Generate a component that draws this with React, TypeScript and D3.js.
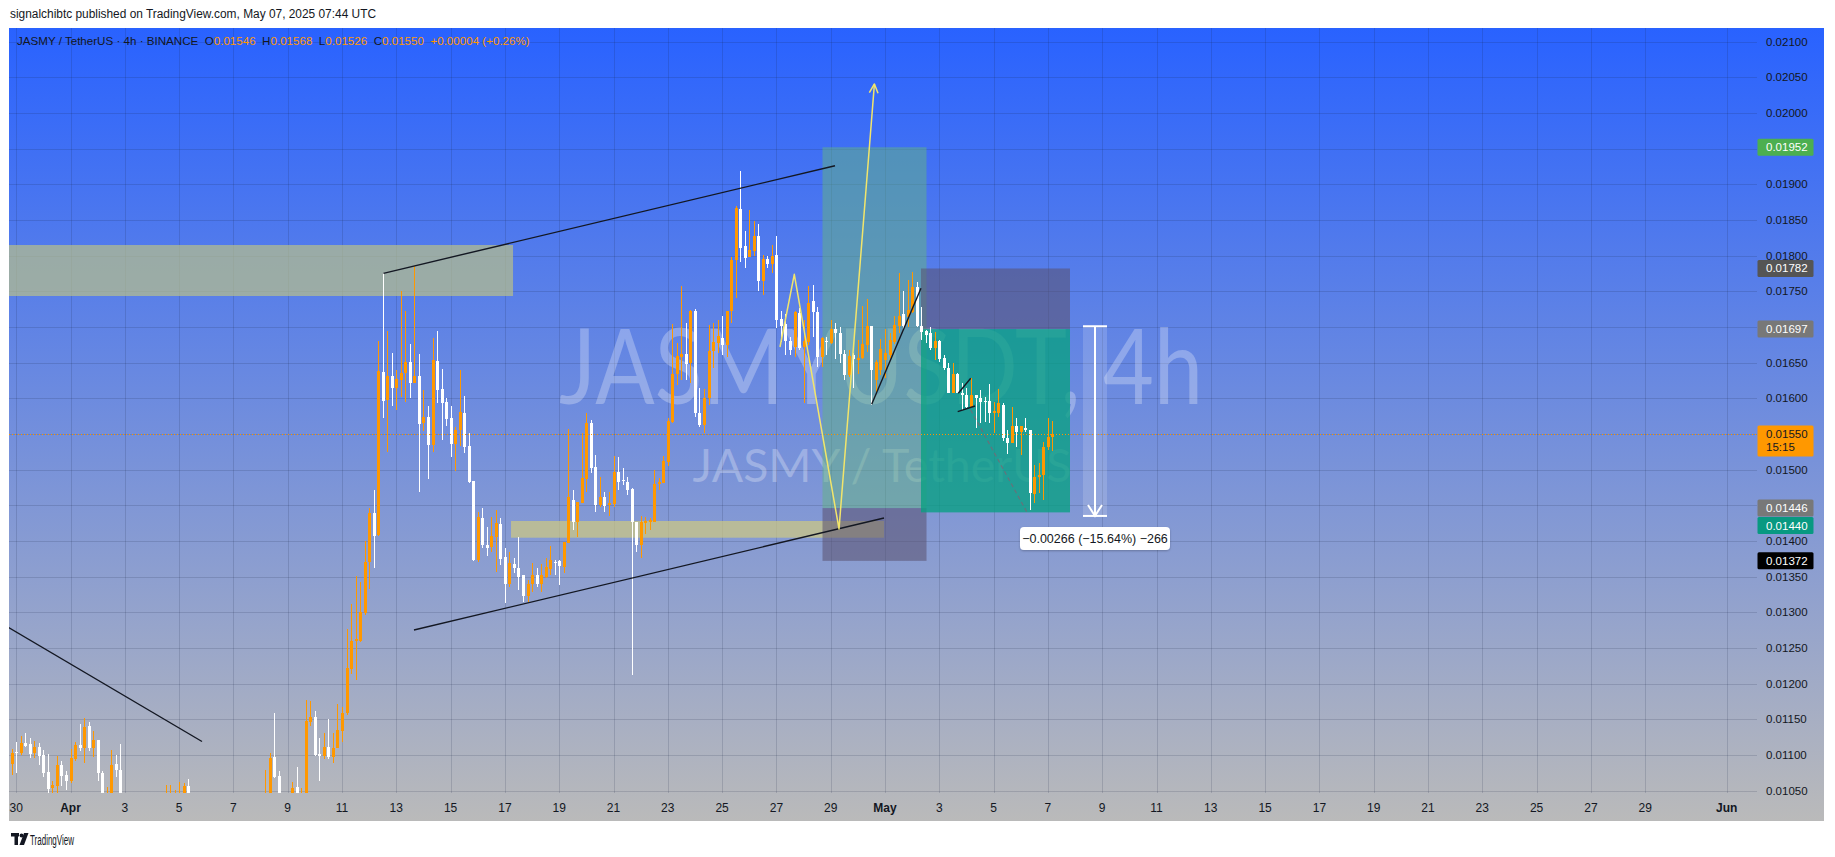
import React from 'react';
import * as d3 from 'd3';

// ---------------- data ----------------
// JASMY/USDT 4h candles, first bar opens 2025-03-29 20:00 UTC; null = bar entirely below the visible range
const firstBarTime = Date.UTC(2025, 2, 29, 20, 0);
const barHours = 4;

const opens: (number | null)[] = [
  0.01087, 0.01104, 0.01102, 0.01117, 0.01115, 0.01102, 0.01111, 0.01100, 0.01076, 0.01054,
  0.01057, 0.01086, 0.01072, 0.01063, 0.01094, 0.01114, 0.01109, 0.01140, 0.01109, 0.01121,
  0.01075, 0.01030, 0.01040, 0.01087, 0.01079, null, null, null, null, null,
  null, null, null, null, 0.01015, 0.01020, 0.01025, 0.01020, 0.01030, 0.01057,
  null, null, null, null, null, null, null, null, null, null,
  null, null, null, null, null, null, 0.01010, 0.01030, 0.01097, 0.01071,
  null, null, 0.01020, 0.01055, 0.01025, 0.01020, 0.01146, 0.01153, 0.01101, 0.01098,
  0.01111, 0.01097, 0.01109, 0.01134, 0.01158, 0.01220, 0.01260, 0.01260, 0.01299, 0.01371,
  0.01439, 0.01408, 0.01637, 0.01598, 0.01631, 0.01615, 0.01626, 0.01636, 0.01651, 0.01621,
  0.01631, 0.01565, 0.01574, 0.01534, 0.01652, 0.01613, 0.01595, 0.01572, 0.01536, 0.01555,
  0.01580, 0.01533, 0.01484, 0.01373, 0.01432, 0.01394, 0.01391, 0.01406, 0.01424, 0.01377,
  0.01340, 0.01367, 0.01362, 0.01352, 0.01323, 0.01339, 0.01352, 0.01340, 0.01350, 0.01360,
  0.01371, 0.01372, 0.01364, 0.01397, 0.01457, 0.01427, 0.01453, 0.01487, 0.01566, 0.01504,
  0.01450, 0.01462, 0.01450, 0.01452, 0.01496, 0.01485, 0.01483, 0.01473, 0.01426, 0.01394,
  0.01425, 0.01427, 0.01427, 0.01480, 0.01481, 0.01511, 0.01567, 0.01634, 0.01658, 0.01662,
  0.01649, 0.01722, 0.01580, 0.01563, 0.01600, 0.01666, 0.01678, 0.01685, 0.01675, 0.01722,
  0.01794, 0.01865, 0.01813, 0.01798, 0.01806, 0.01827, 0.01764, 0.01795, 0.01788, 0.01801,
  0.01711, 0.01704, 0.01680, 0.01672, 0.01720, 0.01672, 0.01679, 0.01736, 0.01721, 0.01658,
  0.01680, 0.01678, 0.01697, 0.01692, 0.01662, 0.01633, 0.01661, 0.01654, 0.01657, 0.01675,
  0.01701, 0.01626, 0.01640, 0.01654, 0.01661, 0.01679, 0.01702, 0.01718, 0.01714, 0.01721,
  0.01756, 0.01702, 0.01694, 0.01691, 0.01670, 0.01680, 0.01656, 0.01642, 0.01608, 0.01634,
  0.01608, 0.01604, 0.01588, 0.01604, 0.01601, 0.01596, 0.01596, 0.01580, 0.01579, 0.01591,
  0.01544, 0.01537, 0.01561, 0.01553, 0.01559, 0.01555, 0.01466, 0.01490, 0.01492, 0.01532,
  0.01546,
];

const highs: (number | null)[] = [
  0.01108, 0.01118, 0.01127, 0.01130, 0.01123, 0.01120, 0.01117, 0.01107, 0.01101, 0.01063,
  0.01099, 0.01092, 0.01078, 0.01108, 0.01118, 0.01143, 0.01152, 0.01146, 0.01133, 0.01121,
  0.01078, 0.01055, 0.01107, 0.01100, 0.01115, null, null, null, null, null,
  null, null, null, null, 0.01058, 0.01058, 0.01051, 0.01062, 0.01060, 0.01066,
  null, null, null, null, null, null, null, null, null, null,
  null, null, null, null, null, null, 0.01079, 0.01102, 0.01158, 0.01078,
  null, null, 0.01062, 0.01083, 0.01054, 0.01177, 0.01175, 0.01162, 0.01124, 0.01130,
  0.01150, 0.01130, 0.01171, 0.01167, 0.01276, 0.01311, 0.01351, 0.01343, 0.01400, 0.01446,
  0.01472, 0.01680, 0.01775, 0.01694, 0.01663, 0.01640, 0.01750, 0.01722, 0.01676, 0.01785,
  0.01662, 0.01612, 0.01589, 0.01685, 0.01694, 0.01641, 0.01601, 0.01589, 0.01560, 0.01640,
  0.01603, 0.01552, 0.01484, 0.01441, 0.01446, 0.01420, 0.01434, 0.01444, 0.01432, 0.01390,
  0.01385, 0.01376, 0.01405, 0.01352, 0.01345, 0.01369, 0.01362, 0.01367, 0.01376, 0.01393,
  0.01373, 0.01373, 0.01399, 0.01557, 0.01471, 0.01455, 0.01551, 0.01580, 0.01569, 0.01520,
  0.01489, 0.01468, 0.01469, 0.01519, 0.01517, 0.01502, 0.01489, 0.01474, 0.01427, 0.01435,
  0.01434, 0.01432, 0.01499, 0.01488, 0.01519, 0.01572, 0.01704, 0.01677, 0.01757, 0.01705,
  0.01724, 0.01725, 0.01614, 0.01613, 0.01703, 0.01706, 0.01710, 0.01715, 0.01722, 0.01798,
  0.01870, 0.01918, 0.01834, 0.01864, 0.01848, 0.01844, 0.01801, 0.01800, 0.01815, 0.01827,
  0.01723, 0.01718, 0.01686, 0.01723, 0.01726, 0.01710, 0.01758, 0.01759, 0.01728, 0.01686,
  0.01686, 0.01710, 0.01705, 0.01700, 0.01667, 0.01667, 0.01663, 0.01682, 0.01729, 0.01739,
  0.01701, 0.01653, 0.01683, 0.01697, 0.01691, 0.01715, 0.01775, 0.01750, 0.01766, 0.01777,
  0.01763, 0.01728, 0.01696, 0.01700, 0.01693, 0.01682, 0.01660, 0.01649, 0.01649, 0.01635,
  0.01621, 0.01614, 0.01628, 0.01605, 0.01612, 0.01602, 0.01620, 0.01595, 0.01613, 0.01594,
  0.01555, 0.01588, 0.01573, 0.01561, 0.01573, 0.01556, 0.01506, 0.01509, 0.01539, 0.01573,
  0.01568,
];

const lows: (number | null)[] = [
  0.01072, 0.01075, 0.01100, 0.01111, 0.01095, 0.01095, 0.01086, 0.01069, 0.01047, 0.01042,
  0.01044, 0.01057, 0.01051, 0.01060, 0.01092, 0.01106, 0.01089, 0.01105, 0.01097, 0.01064,
  0.01020, 0.01020, 0.01030, 0.01069, 0.01010, null, null, null, null, null,
  null, null, null, null, 0.01000, 0.01005, 0.01010, 0.01010, 0.01020, 0.01020,
  null, null, null, null, null, null, null, null, null, null,
  null, null, null, null, null, null, 0.01000, 0.01020, 0.01068, 0.01020,
  null, null, 0.01010, 0.01010, 0.01015, 0.01015, 0.01140, 0.01098, 0.01064, 0.01094,
  0.01094, 0.01089, 0.01109, 0.01118, 0.01156, 0.01214, 0.01205, 0.01258, 0.01296, 0.01333,
  0.01362, 0.01407, 0.01573, 0.01524, 0.01589, 0.01583, 0.01602, 0.01595, 0.01601, 0.01621,
  0.01468, 0.01554, 0.01487, 0.01525, 0.01594, 0.01542, 0.01561, 0.01518, 0.01498, 0.01533,
  0.01523, 0.01481, 0.01372, 0.01371, 0.01390, 0.01379, 0.01385, 0.01357, 0.01366, 0.01313,
  0.01335, 0.01355, 0.01331, 0.01314, 0.01314, 0.01329, 0.01336, 0.01329, 0.01348, 0.01352,
  0.01352, 0.01338, 0.01355, 0.01397, 0.01415, 0.01406, 0.01453, 0.01468, 0.01495, 0.01440,
  0.01448, 0.01441, 0.01435, 0.01447, 0.01472, 0.01478, 0.01465, 0.01212, 0.01385, 0.01376,
  0.01410, 0.01415, 0.01427, 0.01471, 0.01481, 0.01505, 0.01566, 0.01619, 0.01626, 0.01626,
  0.01621, 0.01574, 0.01560, 0.01551, 0.01591, 0.01642, 0.01663, 0.01661, 0.01658, 0.01706,
  0.01740, 0.01791, 0.01782, 0.01798, 0.01799, 0.01751, 0.01745, 0.01782, 0.01775, 0.01698,
  0.01679, 0.01660, 0.01660, 0.01658, 0.01668, 0.01594, 0.01675, 0.01686, 0.01644, 0.01644,
  0.01661, 0.01676, 0.01655, 0.01649, 0.01626, 0.01630, 0.01614, 0.01634, 0.01655, 0.01665,
  0.01591, 0.01608, 0.01633, 0.01629, 0.01656, 0.01676, 0.01691, 0.01696, 0.01700, 0.01719,
  0.01700, 0.01682, 0.01677, 0.01668, 0.01653, 0.01651, 0.01639, 0.01607, 0.01607, 0.01607,
  0.01584, 0.01586, 0.01586, 0.01559, 0.01566, 0.01567, 0.01566, 0.01551, 0.01574, 0.01540,
  0.01522, 0.01537, 0.01532, 0.01520, 0.01553, 0.01443, 0.01453, 0.01467, 0.01457, 0.01528,
  0.01526,
];

const closes: (number | null)[] = [
  0.01103, 0.01102, 0.01116, 0.01112, 0.01101, 0.01111, 0.01098, 0.01075, 0.01052, 0.01058,
  0.01086, 0.01071, 0.01064, 0.01096, 0.01114, 0.01109, 0.01139, 0.01109, 0.01121, 0.01075,
  0.01030, 0.01040, 0.01086, 0.01079, 0.01020, null, null, null, null, null,
  null, null, null, null, 0.01025, 0.01030, 0.01035, 0.01035, 0.01056, 0.01030,
  null, null, null, null, null, null, null, null, null, null,
  null, null, null, null, null, null, 0.01030, 0.01096, 0.01069, 0.01035,
  null, null, 0.01054, 0.01030, 0.01040, 0.01147, 0.01153, 0.01100, 0.01098, 0.01111,
  0.01097, 0.01110, 0.01135, 0.01158, 0.01222, 0.01260, 0.01262, 0.01300, 0.01371, 0.01439,
  0.01407, 0.01638, 0.01596, 0.01631, 0.01615, 0.01627, 0.01635, 0.01651, 0.01622, 0.01631,
  0.01564, 0.01574, 0.01534, 0.01654, 0.01612, 0.01594, 0.01571, 0.01536, 0.01555, 0.01581,
  0.01532, 0.01482, 0.01373, 0.01433, 0.01394, 0.01390, 0.01407, 0.01425, 0.01375, 0.01340,
  0.01369, 0.01362, 0.01350, 0.01323, 0.01340, 0.01352, 0.01339, 0.01352, 0.01363, 0.01373,
  0.01369, 0.01365, 0.01399, 0.01461, 0.01426, 0.01455, 0.01488, 0.01566, 0.01502, 0.01450,
  0.01462, 0.01449, 0.01453, 0.01497, 0.01483, 0.01484, 0.01471, 0.01426, 0.01394, 0.01426,
  0.01428, 0.01430, 0.01480, 0.01482, 0.01512, 0.01568, 0.01634, 0.01659, 0.01662, 0.01648,
  0.01723, 0.01580, 0.01562, 0.01601, 0.01666, 0.01679, 0.01687, 0.01675, 0.01722, 0.01794,
  0.01867, 0.01811, 0.01797, 0.01808, 0.01827, 0.01764, 0.01795, 0.01788, 0.01799, 0.01710,
  0.01702, 0.01680, 0.01668, 0.01721, 0.01671, 0.01680, 0.01734, 0.01721, 0.01658, 0.01685,
  0.01679, 0.01697, 0.01692, 0.01662, 0.01633, 0.01659, 0.01655, 0.01657, 0.01676, 0.01701,
  0.01640, 0.01651, 0.01669, 0.01663, 0.01682, 0.01703, 0.01715, 0.01701, 0.01724, 0.01756,
  0.01701, 0.01693, 0.01689, 0.01670, 0.01680, 0.01655, 0.01642, 0.01608, 0.01634, 0.01608,
  0.01604, 0.01588, 0.01604, 0.01601, 0.01595, 0.01595, 0.01579, 0.01582, 0.01593, 0.01544,
  0.01537, 0.01561, 0.01553, 0.01561, 0.01555, 0.01467, 0.01490, 0.01492, 0.01532, 0.01545,
  0.01550,
];

const priceTicks = [
  0.0105, 0.011, 0.0115, 0.012, 0.0125, 0.013, 0.0135, 0.014, 0.0145, 0.015, 0.0155,
  0.016, 0.0165, 0.017, 0.0175, 0.018, 0.0185, 0.019, 0.0195, 0.02, 0.0205, 0.021,
];

const timeTickDates = [
  '2025-03-30', '2025-04-01', '2025-04-03', '2025-04-05', '2025-04-07', '2025-04-09', '2025-04-11',
  '2025-04-13', '2025-04-15', '2025-04-17', '2025-04-19', '2025-04-21', '2025-04-23', '2025-04-25',
  '2025-04-27', '2025-04-29', '2025-05-01', '2025-05-03', '2025-05-05', '2025-05-07', '2025-05-09',
  '2025-05-11', '2025-05-13', '2025-05-15', '2025-05-17', '2025-05-19', '2025-05-21', '2025-05-23',
  '2025-05-25', '2025-05-27', '2025-05-29', '2025-06-01',
];
const timeTickLabels = [
  '30', 'Apr', '3', '5', '7', '9', '11', '13', '15', '17', '19', '21', '23', '25', '27', '29',
  'May', '3', '5', '7', '9', '11', '13', '15', '17', '19', '21', '23', '25', '27', '29', 'Jun',
];

// price-axis marker labels
const markerPrices = [0.01952, 0.01782, 0.01697, 0.0155, 0.01446, 0.0144, 0.01372];
const markerSubtext = ['', '', '', '15:15', '', '', ''];

// header texts
const publishedLine = 'signalchibtc published on TradingView.com, May 07, 2025 07:44 UTC';
const symbolName = 'JASMY / TetherUS · 4h · BINANCE';
const ohlcLetters = ['O', 'H', 'L', 'C'];
const ohlcValues = ['0.01546', '0.01568', '0.01526', '0.01550'];
const changeText = '+0.00004 (+0.26%)';

// drawings: [time, price]
const upperTrend: [number, number][] = [[Date.UTC(2025, 3, 12, 12, 36), 0.017752], [Date.UTC(2025, 3, 29, 3, 48), 0.019261]];
const lowerTrend: [number, number][] = [[Date.UTC(2025, 3, 13, 15, 36), 0.01275], [Date.UTC(2025, 3, 30, 23, 7), 0.014321]];
const oldTrend: [number, number][] = [[Date.UTC(2025, 2, 28, 12, 0), 0.01306], [Date.UTC(2025, 3, 5, 20, 14), 0.011187]];
const mayTrend: [number, number][] = [[Date.UTC(2025, 3, 30, 12, 14), 0.015915], [Date.UTC(2025, 4, 2, 7, 49), 0.017542]];
const flagUpper: [number, number][] = [[Date.UTC(2025, 4, 3, 16, 48), 0.01607], [Date.UTC(2025, 4, 4, 3, 46), 0.01628]];
const flagLower: [number, number][] = [[Date.UTC(2025, 4, 3, 16, 16), 0.015812], [Date.UTC(2025, 4, 4, 7, 34), 0.015892]];
const flagProjection: [number, number][] = [[Date.UTC(2025, 4, 4, 3, 46), 0.015836], [Date.UTC(2025, 4, 6, 5, 15), 0.014409]];
const pathProjection: [number, number][] = [
  [Date.UTC(2025, 3, 27, 3, 11), 0.016719],
  [Date.UTC(2025, 3, 27, 15, 49), 0.017738],
  [Date.UTC(2025, 3, 29, 7, 21), 0.014167],
  [Date.UTC(2025, 3, 30, 14, 38), 0.020407],
];
const supplyZone = { t0: Date.UTC(2025, 2, 20), t1: Date.UTC(2025, 3, 17, 7, 12), p0: 0.018149, p1: 0.017434 };
const demandZone = { t0: Date.UTC(2025, 3, 17, 5, 24), t1: Date.UTC(2025, 3, 30, 23, 7), p0: 0.014279, p1: 0.014045 };
const longPos = { t0: Date.UTC(2025, 3, 28, 16, 45), t1: Date.UTC(2025, 4, 2, 12, 42), entry: 0.01446, target: 0.01952, stop: 0.01372 };
const shortPos = { t0: Date.UTC(2025, 4, 2, 7, 49), t1: Date.UTC(2025, 4, 7, 19, 32), entry: 0.01697, target: 0.0144, stop: 0.01782 };
const measure = { t: Date.UTC(2025, 4, 8, 17, 38), from: 0.01701, to: 0.01435 };

// ---------------- layout ----------------
const W = 1835;
const H = 857;
const panel = { left: 9, top: 28, right: 1824, bottom: 821 };
const plot = { left: 9, top: 28, right: 1757, bottom: 793 };
const FONT = '"Liberation Sans", Arial, sans-serif';
const TEXT = '#131722';
const ORANGE = '#ff9800';
const GAP = '\u00a0\u00a0';

const markerColors = ['#4caf50', '#555555', '#787878', '#ff9800', '#787878', '#089981', '#000000'];
const markerText = ['#ffffff', '#ffffff', '#ffffff', '#131722', '#ffffff', '#ffffff', '#ffffff'];

export default function App() {
  const x = d3
    .scaleUtc()
    .domain([new Date(Date.UTC(2025, 4, 1)), new Date(Date.UTC(2025, 5, 1))])
    .range([885, 1726.65]);
  const y = d3.scaleLinear().domain([0.0105, 0.021]).range([790.5, 41.7]);
  const fmt = d3.format('.5f');
  const X = (t: number) => x(new Date(t));

  const candles = opens
    .map((o, i) =>
      o == null
        ? null
        : { i, o, h: highs[i] as number, l: lows[i] as number, c: closes[i] as number, t: firstBarTime + i * barHours * 3600000 }
    )
    .filter(Boolean) as { i: number; o: number; h: number; l: number; c: number; t: number }[];

  // marker label layout (push down on collision)
  const markers = markerPrices.map((p, k) => ({
    p,
    k,
    h: markerSubtext[k] ? 31 : 17,
    top: y(p) - 8.5,
  }));
  const sorted = [...markers].sort((a, b) => a.top - b.top);
  let prevBottom = -Infinity;
  sorted.forEach((m) => {
    if (m.top < prevBottom + 0.5) m.top = prevBottom + 0.5;
    prevBottom = m.top + m.h;
  });
  const tickVisible = (p: number) => {
    const cy = y(p);
    return !markers.some((m) => cy + 4 > m.top && cy - 4 < m.top + m.h);
  };

  const line = d3
    .line<[number, number]>()
    .x((d) => X(d[0]))
    .y((d) => y(d[1]));

  // yellow arrow head
  const pp = pathProjection;
  const tipX = X(pp[3][0]);
  const tipY = y(pp[3][1]);
  const bx = X(pp[2][0]);
  const by = y(pp[2][1]);
  const ang = Math.atan2(tipY - by, tipX - bx);
  const headLen = 10;
  const head = [ang + Math.PI - 0.45, ang + Math.PI + 0.45].map((a) => [tipX + headLen * Math.cos(a), tipY + headLen * Math.sin(a)]);

  // measure
  const mx = X(measure.t);
  const my0 = y(measure.from);
  const my1 = y(measure.to);
  const diff = measure.to - measure.from;
  const pct = (diff / measure.from) * 100;
  const ticks = Math.round(diff / 0.00001);
  const minus = (s: string) => s.replace('-', '\u2212');
  const measureText = `${minus(d3.format('.5f')(diff))} (${minus(d3.format('.2f')(pct))}%) ${minus(String(ticks))}`;

  const curY = y(closes[closes.length - 1] as number);

  const rectP = (t0: number, t1: number, p0: number, p1: number) => {
    const x0 = X(t0);
    const x1 = X(t1);
    const ya = y(Math.max(p0, p1));
    const yb = y(Math.min(p0, p1));
    return { x: x0, y: ya, width: x1 - x0, height: yb - ya };
  };

  return (
    <svg
      width={W}
      height={H}
      viewBox={`0 0 ${W} ${H}`}
      style={{ position: 'absolute', left: 0, top: 0, display: 'block', background: '#ffffff' }}
      fontFamily={FONT}
    >
      <defs>
        <linearGradient id="bg" gradientUnits="userSpaceOnUse" x1="0" y1={panel.top} x2="0" y2={panel.bottom}>
          <stop offset="0" stopColor="#2962ff" />
          <stop offset="1" stopColor="#bababa" />
        </linearGradient>
        <clipPath id="plotClip">
          <rect x={plot.left} y={plot.top} width={plot.right - plot.left} height={plot.bottom - plot.top} />
        </clipPath>
        <filter id="shadow" x="-10%" y="-30%" width="120%" height="160%">
          <feDropShadow dx="0" dy="1" stdDeviation="1.2" floodColor="#000" floodOpacity="0.25" />
        </filter>
      </defs>

      {/* header */}
      <text x={10} y={18} fontSize={12.5} fill={TEXT} textLength={366} lengthAdjust="spacingAndGlyphs">
        {publishedLine}
      </text>

      {/* panel background */}
      <rect x={panel.left} y={panel.top} width={panel.right - panel.left} height={panel.bottom - panel.top} fill="url(#bg)" />

      {/* grid */}
      <g stroke="rgba(25,35,70,0.16)" strokeWidth={1} shapeRendering="crispEdges">
        {priceTicks.map((p) => (
          <line key={'h' + p} x1={plot.left} x2={plot.right} y1={Math.round(y(p)) + 0.5} y2={Math.round(y(p)) + 0.5} />
        ))}
        {timeTickDates.map((d) => {
          const xx = Math.round(x(new Date(d + 'T00:00:00Z'))) + 0.5;
          return <line key={'v' + d} x1={xx} x2={xx} y1={plot.top} y2={plot.bottom} />;
        })}
      </g>

      {/* watermark */}
      <g fill="#ffffff" fillOpacity={0.28} fontFamily='Lato, "Open Sans", sans-serif' textAnchor="middle">
        <text x={881} y={404} fontSize={104} textLength={644} lengthAdjust="spacingAndGlyphs">
          JASMYUSDT, 4h
        </text>
        <text x={882} y={482} fontSize={46} textLength={379} lengthAdjust="spacingAndGlyphs">
          JASMY / TetherUS
        </text>
      </g>

      <g clipPath="url(#plotClip)">
        {/* zones */}
        <rect {...rectP(supplyZone.t0, supplyZone.t1, supplyZone.p0, supplyZone.p1)} fill="rgba(182,190,140,0.72)" />
        <rect {...rectP(demandZone.t0, demandZone.t1, demandZone.p0, demandZone.p1)} fill="rgba(205,200,130,0.72)" />

        {/* long position */}
        <rect {...rectP(longPos.t0, longPos.t1, longPos.entry, longPos.target)} fill="rgba(100,180,130,0.5)" />
        <rect {...rectP(longPos.t0, longPos.t1, longPos.stop, longPos.entry)} fill="rgba(90,80,110,0.55)" />

        {/* short position */}
        <rect {...rectP(shortPos.t0, shortPos.t1, shortPos.entry, shortPos.stop)} fill="rgba(90,80,110,0.55)" />
        <rect {...rectP(shortPos.t0, shortPos.t1, shortPos.target, shortPos.entry)} fill="rgba(8,160,130,0.78)" />

        {/* measure band */}
        <rect x={mx - 12} y={my0} width={24} height={my1 - my0} fill="rgba(255,255,255,0.16)" />

        {/* candles */}
        <g shapeRendering="crispEdges">
          {candles.map((d) => {
            const cx = Math.round(X(d.t));
            const col = d.c >= d.o ? ORANGE : '#ffffff';
            const yt = Math.round(y(Math.max(d.o, d.c)));
            const yb = Math.round(y(Math.min(d.o, d.c)));
            const yh = Math.round(y(d.h));
            const yl = Math.round(y(d.l));
            return (
              <g key={d.i} fill={col}>
                <rect x={cx} y={yh} width={1} height={Math.max(1, yl - yh)} />
                <rect x={cx - 1} y={yt} width={3} height={Math.max(1, yb - yt)} />
              </g>
            );
          })}
        </g>

        {/* current price line */}
        <line
          x1={plot.left}
          x2={plot.right}
          y1={Math.round(curY) + 0.5}
          y2={Math.round(curY) + 0.5}
          stroke={ORANGE}
          strokeWidth={1}
          strokeDasharray="1 2"
        />

        {/* trendlines */}
        <g stroke="#131722" strokeWidth={1.4} fill="none">
          <path d={line(upperTrend) as string} />
          <path d={line(lowerTrend) as string} />
          <path d={line(oldTrend) as string} />
          <path d={line(mayTrend) as string} />
          <path d={line(flagUpper) as string} />
          <path d={line(flagLower) as string} />
        </g>
        <path d={line(flagProjection) as string} stroke="rgba(110,110,120,0.9)" strokeWidth={1.2} strokeDasharray="4 3" fill="none" />

        {/* yellow projection */}
        <g stroke="#f2e56b" strokeWidth={1.5} fill="none" strokeLinejoin="round">
          <path d={line(pathProjection) as string} />
          <path d={`M${head[0][0]},${head[0][1]}L${tipX},${tipY}L${head[1][0]},${head[1][1]}`} />
        </g>

        {/* measure tool */}
        <g stroke="#ffffff" strokeWidth={2} fill="none">
          <line x1={mx} x2={mx} y1={my0} y2={my1} />
          <line x1={mx - 12} x2={mx + 12} y1={my0} y2={my0} />
          <line x1={mx - 12} x2={mx + 12} y1={my1} y2={my1} />
          <path d={`M${mx - 7},${my1 - 11}L${mx},${my1}L${mx + 7},${my1 - 11}`} />
        </g>
      </g>

      {/* measure label */}
      <g filter="url(#shadow)">
        <rect x={mx - 75} y={my1 + 11} width={150} height={23} rx={4} fill="#ffffff" />
      </g>
      <text x={mx} y={my1 + 27} fontSize={12.5} fill={TEXT} textAnchor="middle">
        {measureText}
      </text>

      {/* price axis */}
      <g fontSize={11.5} fill={TEXT}>
        {priceTicks
          .filter((p) => tickVisible(p))
          .map((p) => (
            <text key={'pt' + p} x={1766} y={y(p) + 4}>
              {fmt(p)}
            </text>
          ))}
      </g>
      {markers.map((m) => (
        <g key={'mk' + m.k}>
          <rect x={1757.5} y={m.top} width={56} height={m.h} rx={1.5} fill={markerColors[m.k]} />
          <text x={1766} y={m.top + 12.5} fontSize={11.5} fill={markerText[m.k]}>
            {fmt(m.p)}
          </text>
          {markerSubtext[m.k] ? (
            <text x={1766} y={m.top + 26} fontSize={11.5} fill={markerText[m.k]}>
              {markerSubtext[m.k]}
            </text>
          ) : null}
        </g>
      ))}

      {/* time axis */}
      <g fontSize={12} fill={TEXT} textAnchor="middle">
        {timeTickDates.map((d, k) => (
          <text
            key={'tt' + d}
            x={x(new Date(d + 'T00:00:00Z'))}
            y={812}
            fontWeight={/[A-Za-z]/.test(timeTickLabels[k]) ? 'bold' : 'normal'}
          >
            {timeTickLabels[k]}
          </text>
        ))}
      </g>

      {/* symbol line */}
      <text x={17} y={45} fontSize={11.6} fill={TEXT}>
        <tspan>{symbolName}</tspan>
        {ohlcLetters.map((l, k) => (
          <React.Fragment key={l}>
            <tspan fill={TEXT}>{GAP + l}</tspan>
            <tspan fill={ORANGE}>{ohlcValues[k]}</tspan>
          </React.Fragment>
        ))}
        <tspan fill={ORANGE}>{GAP + changeText}</tspan>
      </text>

      {/* TradingView logo */}
      <g fill={TEXT}>
        <rect x={11} y={833} width={8} height={3.5} />
        <rect x={14.5} y={833} width={3.5} height={12} />
        <circle cx={21.5} cy={835.5} r={1.9} />
        <path d="M24,833 L28.5,833 L24,845 L19.5,845 Z" />
        <text x={30} y={845} fontSize={14} textLength={44} lengthAdjust="spacingAndGlyphs">
          TradingView
        </text>
      </g>
    </svg>
  );
}
